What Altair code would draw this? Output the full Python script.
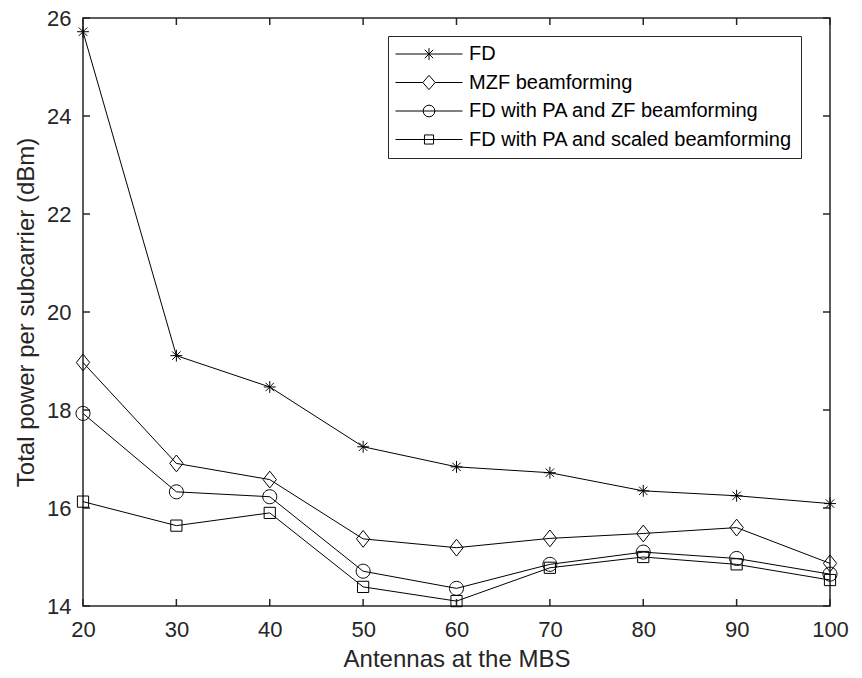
import altair as alt
import pandas as pd

# ---- data ----
antennas = [20, 30, 40, 50, 60, 70, 80, 90, 100]
fd = [25.72, 19.11, 18.47, 17.25, 16.84, 16.72, 16.35, 16.25, 16.09]
mzf = [18.97, 16.91, 16.58, 15.37, 15.19, 15.38, 15.48, 15.60, 14.87]
pa_zf = [17.93, 16.33, 16.23, 14.71, 14.36, 14.85, 15.10, 14.97, 14.65]
pa_scaled = [16.13, 15.64, 15.90, 14.39, 14.10, 14.78, 15.00, 14.85, 14.53]
series_names = [
    "FD",
    "MZF beamforming",
    "FD with PA and ZF beamforming",
    "FD with PA and scaled beamforming",
]
x_ticks = [20, 30, 40, 50, 60, 70, 80, 90, 100]
y_ticks = [14, 16, 18, 20, 22, 24, 26]

rows = []
for name, vals in zip(series_names, [fd, mzf, pa_zf, pa_scaled]):
    for a, v in zip(antennas, vals):
        rows.append({"antennas": a, "power": v, "series": name})
df = pd.DataFrame(rows)
xt_df = pd.DataFrame({"antennas": x_ticks})
yt_df = pd.DataFrame({"power": y_ticks})

# ---- styling ----
FONT = "Liberation Sans"
AX = "#262626"
W, H = 747, 588
TICK = 7

marker_paths = [
    "M-0.85,0H0.85M0,-0.85V0.85M-0.6,-0.6L0.6,0.6M-0.6,0.6L0.6,-0.6",
    "M0,-1.2L0.95,0L0,1.2L-0.95,0Z",
    "M1,0A1,1,0,1,1,-1,0A1,1,0,1,1,1,0Z",
    "M-0.8,-0.8H0.8V0.8H-0.8Z",
]
legend_paths = [
    "M-5.15,0H5.15M0,-0.9V0.9M-0.65,-0.65L0.65,0.65M-0.65,0.65L0.65,-0.65",
    "M-5.15,0H-0.95M0.95,0H5.15M0,-1.1L0.95,0L0,1.1L-0.95,0Z",
    "M-5.15,0H5.15M0.9,0A0.9,0.9,0,1,1,-0.9,0A0.9,0.9,0,1,1,0.9,0Z",
    "M-5.15,0H5.15M-0.7,-0.7H0.7V0.7H-0.7Z",
]

x_scale = alt.Scale(domain=[20, 100], nice=False, zero=False)
y_scale = alt.Scale(domain=[14, 26], nice=False, zero=False)
x_axis = alt.Axis(title="Antennas at the MBS", values=x_ticks, format="d",
                  labelPadding=13, titlePadding=7, labelFlush=False)
y_axis = alt.Axis(title="Total power per subcarrier (dBm)", values=y_ticks,
                  format="d", labelPadding=12, titlePadding=8,
                  labelFlush=False)

X = alt.X("antennas:Q", scale=x_scale, axis=x_axis)
Y = alt.Y("power:Q", scale=y_scale, axis=y_axis)

base = alt.Chart(df)

lines = base.mark_line(color="black", strokeWidth=1).encode(
    x=X, y=Y, detail="series:N"
)

points = base.mark_point(filled=False, color="black", strokeWidth=1,
                         size=196, opacity=1).encode(
    x=X, y=Y,
    shape=alt.Shape("series:N",
                    scale=alt.Scale(domain=series_names, range=marker_paths),
                    legend=None),
)

legend_layer = base.mark_point(filled=False, color="black", strokeWidth=1,
                               opacity=0).encode(
    x=X, y=Y,
    shape=alt.Shape(
        "series:N",
        scale=alt.Scale(domain=series_names, range=legend_paths),
        legend=alt.Legend(
            title=None, orient="none", legendX=305, legendY=18,
            fillColor="white", strokeColor=AX, padding=8,
            labelFont=FONT, labelFontSize=20, labelColor="black",
            labelLimit=600, symbolSize=169, symbolStrokeWidth=1,
            symbolStrokeColor="black", symbolFillColor="transparent",
            symbolOpacity=1, rowPadding=8.5, symbolOffset=23, labelOffset=30,
        ),
    ),
)

tick_style = dict(color=AX, strokeWidth=1.5)
bottom_ticks = alt.Chart(xt_df).mark_rule(**tick_style).encode(
    x=X, y=alt.value(H), y2=alt.value(H - TICK))
top_ticks = alt.Chart(xt_df).mark_rule(**tick_style).encode(
    x=X, y=alt.value(0), y2=alt.value(TICK))
left_ticks = alt.Chart(yt_df).mark_rule(**tick_style).encode(
    y=Y, x=alt.value(0), x2=alt.value(TICK))
right_ticks = alt.Chart(yt_df).mark_rule(**tick_style).encode(
    y=Y, x=alt.value(W), x2=alt.value(W - TICK))

chart = (
    alt.layer(bottom_ticks, top_ticks, left_ticks, right_ticks,
              lines, points, legend_layer)
    .resolve_scale(shape="independent")
    .properties(
        width=W, height=H, autosize="none",
        padding={"left": 83, "top": 18, "right": 32, "bottom": 72},
        background="white",
    )
    .configure_view(stroke=AX, strokeWidth=1.5)
    .configure_axis(
        domain=False, ticks=False, tickSize=0, grid=False,
        labelFont=FONT, labelFontSize=22, labelColor=AX,
        titleFont=FONT, titleFontSize=24, titleFontWeight="normal",
        titleColor=AX,
    )
    .configure_legend(strokeWidth=1, cornerRadius=0)
)

chart.save("out.html", embed_options={"renderer": "svg", "actions": False})
